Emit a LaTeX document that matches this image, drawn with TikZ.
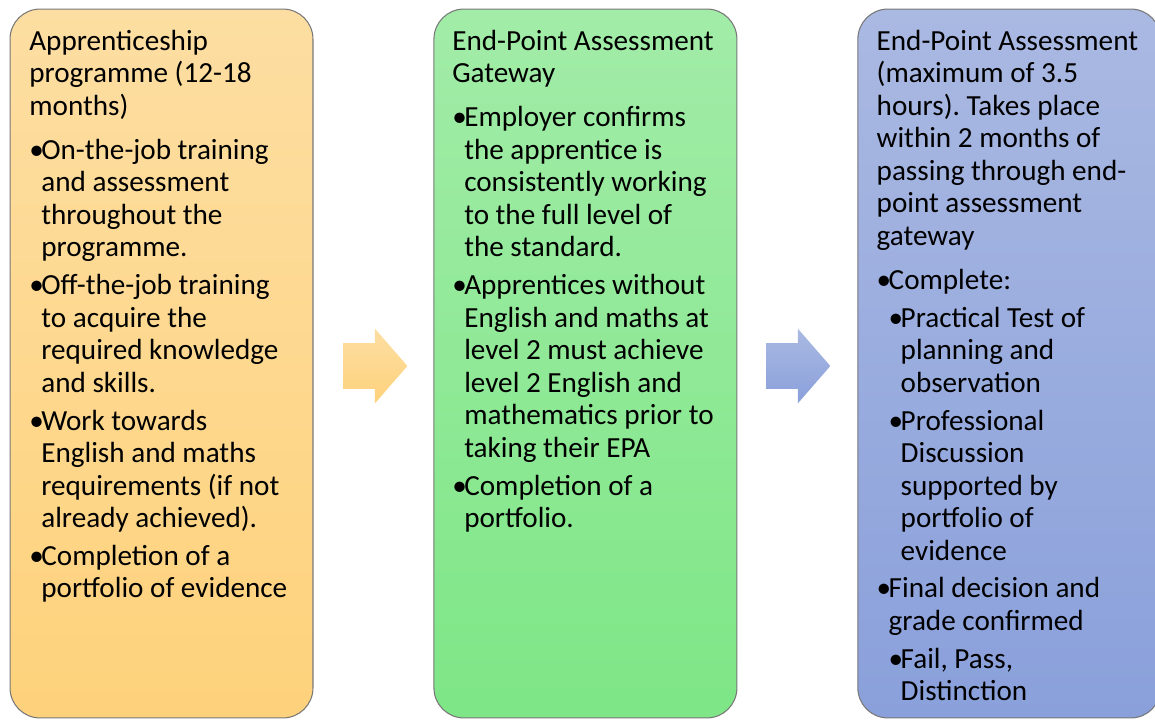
\documentclass[tikz,border=0pt]{standalone}
\usepackage{fontspec}
\setmainfont{Carlito}
\usepackage{tikz}
\usetikzlibrary{positioning,shapes.arrows}

\definecolor{otop}{RGB}{253,222,162}
\definecolor{obot}{RGB}{254,210,124}
\definecolor{gtop}{RGB}{162,236,168}
\definecolor{gbot}{RGB}{126,230,134}
\definecolor{btop}{RGB}{170,185,226}
\definecolor{bbot}{RGB}{138,160,219}
\definecolor{rim}{RGB}{120,120,120}

\newlength{\bulw}
\setlength{\bulw}{0.24cm}
\newcommand{\bul}{\makebox[\bulw][l]{•}}
\newcommand{\ind}{\hspace*{\bulw}}
\frenchspacing

\begin{document}
\begin{tikzpicture}[x=0.02cm,y=-0.02cm,node distance=8.48cm,on grid,
		stage/.style={draw=rim,line width=0.6pt,rounded corners=0.6cm,minimum width=6.06cm,minimum height=14.18cm},
		txt/.style={anchor=north west,inner sep=0pt,align=left,font=\fontsize{16.6}{18.5}\selectfont},
		blk/.style={single arrow,single arrow head extend=0.29cm,single arrow tip angle=98,single arrow head indent=0pt,text height=0.45cm,text depth=0.45cm,text width=0pt,minimum height=1.28cm,inner sep=0pt}]
	\useasboundingbox (0,0) rectangle (1155,720);
			\node[stage,top color=otop,bottom color=obot] (s0) at (161.5,363.5) {};
			\node[stage,top color=gtop,bottom color=gbot] (s1) [right=of s0] {};
			\node[stage,top color=btop,bottom color=bbot] (s2) [right=of s1] {};
			\node[blk,top color=otop,bottom color=obot] (a0) [right=4.08cm of s0,yshift=-0.05cm] {};
			\node[blk,top color=btop,bottom color=bbot] (a1) [right=4.06cm of s1,yshift=-0.05cm] {};
			\node[txt] (t0) at ([shift={(0.39cm,-0.42cm)}]s0.north west)
			{Apprenticeship\\ programme (12-18\\ months)\\[6.5pt]
			\bul On-the-job training\\ \ind and assessment\\ \ind throughout the\\ \ind programme.\\[3.1pt]
			\bul Off-the-job training\\ \ind to acquire the\\ \ind required knowledge\\ \ind and skills.\\[3.1pt]
			\bul Work towards\\ \ind English and maths\\ \ind requirements (if not\\ \ind already achieved).\\[3.1pt]
			\bul Completion of a\\ \ind portfolio of evidence};
			\node[txt] (t1) at ([shift={(0.37cm,-0.42cm)}]s1.north west)
			{End-Point Assessment\\ Gateway\\[6.5pt]
			\bul Employer confirms\\ \ind the apprentice is\\ \ind consistently working\\ \ind to the full level of\\ \ind the standard.\\[3.1pt]
			\bul Apprentices without\\ \ind English and maths at\\ \ind level 2 must achieve\\ \ind level 2 English and\\ \ind mathematics prior to\\ \ind taking their EPA\\[3.1pt]
			\bul Completion of a\\ \ind portfolio.};
			\node[txt] (t2) at ([shift={(0.38cm,-0.42cm)}]s2.north west)
			{End-Point Assessment\\ (maximum of 3.5\\ hours). Takes place\\ within 2 months of\\ passing through end-\\ point assessment\\ gateway\\[6.5pt]
			\bul Complete:\\[3.1pt]
			\ind\bul Practical Test of\\ \ind\ind planning and\\ \ind\ind observation\\[3.1pt]
			\ind\bul Professional\\ \ind\ind Discussion\\ \ind\ind supported by\\ \ind\ind portfolio of\\ \ind\ind evidence\\[3.1pt]
			\bul Final decision and\\ \ind grade confirmed\\[3.1pt]
			\ind\bul Fail, Pass,\\ \ind\ind Distinction};
		\end{tikzpicture}
\end{document}
